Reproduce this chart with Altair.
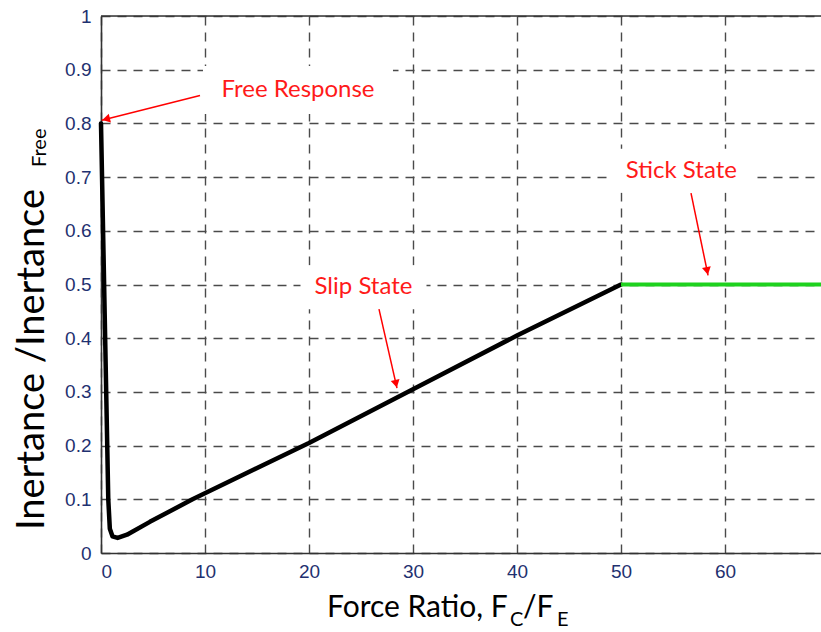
import math
import altair as alt
import pandas as pd

# ---------------- data ----------------
curve_x = [0, 0.4, 0.7, 0.85, 1.1, 1.6, 2.5, 4.7, 8.8, 20, 30, 40, 50]
curve_y = [0.80, 0.40, 0.10, 0.045, 0.031, 0.028, 0.034, 0.058, 0.10, 0.205, 0.305, 0.405, 0.50]

stick_x = [50, 55, 60, 65, 70]
stick_y = [0.50, 0.50, 0.50, 0.50, 0.50]

x_ticks = [0, 10, 20, 30, 40, 50, 60]
y_ticks = [0, 0.1, 0.2, 0.3, 0.4, 0.5, 0.6, 0.7, 0.8, 0.9, 1]

ann_text = ["Free Response", "Stick State", "Slip State"]
ann_tx = [18.94, 55.8, 25.24]
ann_ty = [0.862, 0.712, 0.495]
arrow_x0 = [9.52, 56.73, 26.73]
arrow_y0 = [0.852, 0.670, 0.454]
arrow_x1 = [0.07, 58.37, 28.46]
arrow_y1 = [0.806, 0.517, 0.307]

# ---------------- layout ----------------
W, H = 720, 537
X_MAX = 69.23
PXX = W / X_MAX      # px per x unit
PXY = H / 1.0        # px per y unit

# white text-box sizes (pixels) behind the annotation labels
BOX_W = [190, 140, 126]
BOX_H = [48, 44, 44]

xscale = alt.Scale(domain=[0, X_MAX], nice=False, zero=False)
yscale = alt.Scale(domain=[0, 1], nice=False)

curve_df = pd.DataFrame({"x": curve_x, "y": curve_y})
stick_df = pd.DataFrame({"x": stick_x, "y": stick_y})
ann_df = pd.DataFrame({"t": ann_text, "x": ann_tx, "y": ann_ty})
box_df = pd.DataFrame({
    "x0": [ann_tx[i] - BOX_W[i] / 2 / PXX for i in range(3)],
    "x1": [ann_tx[i] + BOX_W[i] / 2 / PXX for i in range(3)],
    "y0": [ann_ty[i] - BOX_H[i] / 2 / PXY for i in range(3)],
    "y1": [ann_ty[i] + BOX_H[i] / 2 / PXY for i in range(3)],
})

arrow_rows = []
head_rows = []
for i in range(len(arrow_x0)):
    arrow_rows.append({"id": i, "x": arrow_x0[i], "y": arrow_y0[i]})
    arrow_rows.append({"id": i, "x": arrow_x1[i], "y": arrow_y1[i]})
    dx = (arrow_x1[i] - arrow_x0[i]) * PXX
    dy = -(arrow_y1[i] - arrow_y0[i]) * PXY
    L = math.hypot(dx, dy)
    ang = math.degrees(math.atan2(dx, -dy)) % 360
    back = 4.5
    hx = arrow_x1[i] - dx / L * back / PXX
    hy = arrow_y1[i] + dy / L * back / PXY
    head_rows.append({"x": hx, "y": hy, "ang": ang})
arrow_df = pd.DataFrame(arrow_rows)
head_df = pd.DataFrame(head_rows)

common_axis = dict(
    title=None, grid=True, ticks=False, labelFontSize=19,
    labelFont="Liberation Sans", labelColor="#1f3170",
    gridDash=[9, 7], gridColor="#4a4a4a", gridWidth=1.4, gridOpacity=1,
    domainColor="#333333", domainWidth=1.6,
)
x_axis = alt.Axis(values=x_ticks, labelPadding=9, format="d", **common_axis)
y_axis = alt.Axis(values=y_ticks, labelPadding=10, format=".1~f", **common_axis)

curve = alt.Chart(curve_df).mark_line(
    color="black", strokeWidth=4.5, strokeJoin="round", strokeCap="round"
).encode(
    x=alt.X("x:Q", scale=xscale, axis=x_axis),
    y=alt.Y("y:Q", scale=yscale, axis=y_axis),
)

stick = alt.Chart(stick_df).mark_line(
    color="#1ed21e", strokeWidth=4, clip=True
).encode(x=alt.X("x:Q", scale=xscale), y=alt.Y("y:Q", scale=yscale))

boxes = alt.Chart(box_df).mark_rect(color="white", opacity=1).encode(
    x=alt.X("x0:Q", scale=xscale), x2="x1:Q",
    y=alt.Y("y0:Q", scale=yscale), y2="y1:Q",
)

top_border = alt.Chart(pd.DataFrame({"y": [1]})).mark_rule(
    color="#333333", strokeWidth=1.6
).encode(y=alt.Y("y:Q", scale=yscale))

arrows = alt.Chart(arrow_df).mark_line(color="#ff0000", strokeWidth=1.5).encode(
    x=alt.X("x:Q", scale=xscale), y=alt.Y("y:Q", scale=yscale), detail="id:N"
)
heads = alt.Chart(head_df).mark_point(
    shape="triangle-up", filled=True, color="#ff0000", size=80, opacity=1
).encode(
    x=alt.X("x:Q", scale=xscale), y=alt.Y("y:Q", scale=yscale),
    angle=alt.Angle("ang:Q", scale=None),
)

labels = alt.Chart(ann_df).mark_text(
    font="Lato", fontSize=24, color="#ff1a1a", align="center", baseline="middle"
).encode(x=alt.X("x:Q", scale=xscale), y=alt.Y("y:Q", scale=yscale), text="t:N")

# ---------------- axis titles (with subscripts) ----------------
def txt(s, px, py, size, angle=0, align="left", baseline="alphabetic"):
    kw = dict(font="Lato", fontSize=size, color="black", align=align, baseline=baseline)
    if angle:
        kw["angle"] = angle
    return alt.Chart(pd.DataFrame({"a": [0]})).mark_text(**kw).encode(
        x=alt.value(px - 101), y=alt.value(py - 16), text=alt.value(s)
    )

titles = [
    txt("Force Ratio, F", 327, 617, 30),
    txt("C", 510, 626, 20),
    txt("/F", 523, 617, 30),
    txt("E", 557, 626, 20),
    txt("Inertance /Inertance", 44, 530, 38, angle=270),
    txt("Free", 46, 167, 20, angle=270),
]

chart = alt.layer(
    curve, stick, boxes, top_border, arrows, heads, labels, *titles
).properties(
    width=W, height=H,
    autosize=alt.AutoSizeParams(type="none"),
    padding={"left": 101, "top": 16, "right": 0, "bottom": 76},
).configure_view(stroke=None).configure(background="white")

chart.save("out.html", embed_options={"renderer": "svg", "actions": False})
